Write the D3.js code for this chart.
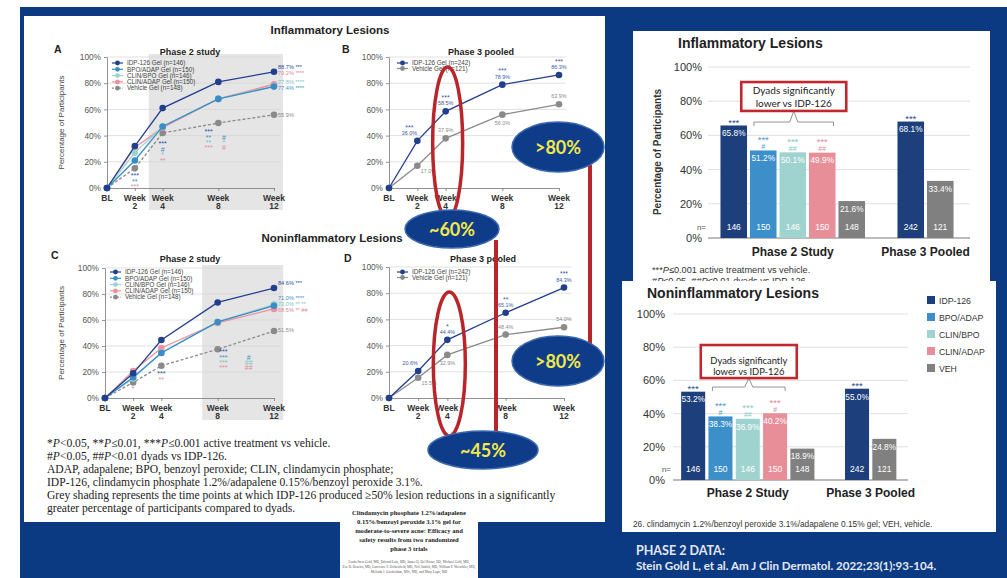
<!DOCTYPE html>
<html>
<head>
<meta charset="utf-8">
<script src="https://cdn.jsdelivr.net/npm/d3@7"></script>
<style>
  body { margin: 0; background: #fff; }
  svg { display: block; font-family: "Liberation Sans", Arial, sans-serif; }
</style>
</head>
<body>
<div id="slide"></div>
<script>
'use strict';

// ---- line charts (panels A-D) ----
const weekNums = [0, 2, 4, 8, 12];
const weekTop = ["BL", "Week", "Week", "Week", "Week"];
const weekBottom = ["", "2", "4", "8", "12"];
const pctTicks = [0, 20, 40, 60, 80, 100];

const p2Names = ["IDP-126 Gel (n=146)", "BPO/ADAP Gel (n=150)", "CLIN/BPO Gel (n=146)", "CLIN/ADAP Gel (n=150)", "Vehicle Gel (n=148)"];
const p3Names = ["IDP-126 Gel (n=242)", "Vehicle Gel (n=121)"];

const inflP2 = [
  [0, 32, 61, 81, 88.7],
  [0, 21, 47, 68, 77.4],
  [0, 27, 47, 68, 77.8],
  [0, 31, 46, 68, 79.2],
  [0, 15, 42, 49.6, 55.9]
];
const inflP2EndStars = ["***", "****", "****", "****", ""];
const inflP2EndAt = [92.4, 76.3, 80.9, 87.8, 55.9];
// [week, pct, series, text]
const inflP2Marks = [
  [2, 10, 0, "***"], [2, 5.5, 1, "**"], [2, 1.5, 3, "***"],
  [4, 34, 0, "***"], [4, 30, 1, "#"], [4, 26, 2, "*"], [4, 21.5, 3, "**"],
  [7.3, 43.5, 0, "***"], [7.3, 39, 1, "**"], [7.3, 35, 2, "**"], [7.3, 31, 3, "***"],
  [8.4, 39, 1, "#"], [8.4, 35, 2, "*"], [8.4, 31, 3, "#"]
];

const inflP3 = [
  [0, 36.0, 58.5, 78.9, 86.3],
  [0, 17.0, 37.9, 56.0, 63.9]
];
const inflP3Stars = [["", "***", "***", "***", "***"], ["", "", "", "", ""]];
const inflP3Place = [["", "l", "a", "a", "a"], ["", "r", "a", "b", "a"]];

const noninflP2 = [
  [0, 19, 44.6, 73.5, 84.6],
  [0, 16, 34.6, 58.5, 71.0],
  [0, 15, 35, 58.5, 72.0],
  [0, 20.8, 38.5, 57.7, 68.5],
  [0, 12, 24.8, 37.5, 51.5]
];
const noninflP2EndStars = ["***", "****", "** **", "** ##", ""];
const noninflP2EndAt = [88.5, 77, 72.3, 67.7, 52.3];
const noninflP2Marks = [
  [2, 7.5, 3, "*"],
  [4, 19, 0, "***"], [4, 14.6, 3, "**"],
  [8.4, 36, 0, "***"], [8.4, 31.5, 1, "***"], [8.4, 27.7, 2, "***"], [8.4, 23.8, 3, "***"],
  [10.2, 31.5, 1, "#"], [10.2, 27.7, 2, "##"], [10.2, 23.8, 3, "##"]
];

const noninflP3 = [
  [0, 20.6, 44.4, 65.1, 84.3],
  [0, 15.5, 32.9, 48.4, 54.0]
];
const noninflP3Stars = [["", "", "*", "**", "***"], ["", "", "", "", ""]];
const noninflP3Place = [["", "l", "a", "a", "a"], ["", "r", "b", "a", "a"]];

const p2Colors = ["#223f8e", "#3a8cc6", "#9cd4cf", "#ec919d", "#8a8a8a"];
const p2TextColors = ["#2c4c9a", "#3d90c8", "#7cc4bf", "#e4899a", "#8a8a8a"];
const p3Colors = ["#223f8e", "#8a8a8a"];
const p3TextColors = ["#3a5aa2", "#8a8a8a"];

// ---- bar charts (right side) ----
const barNames = ["IDP-126", "BPO/ADAP", "CLIN/BPO", "CLIN/ADAP", "VEH"];
const barColors = ["#1d3f7c", "#3c8fc8", "#9fd3d0", "#e88e99", "#808080"];
const barStarColors = ["#2a4a94", "#4a9ad0", "#86c8c3", "#e48b98", "#808080"];
const barGroups = ["Phase 2 Study", "Phase 3 Pooled"];
const barSlots = ["P2 IDP-126", "P2 BPO/ADAP", "P2 CLIN/BPO", "P2 CLIN/ADAP", "P2 VEH", "P3 IDP-126", "P3 VEH"];
const barSeries = [0, 1, 2, 3, 4, 0, 4];
const barN = [146, 150, 146, 150, 148, 242, 121];
const inflBars = [65.8, 51.2, 50.1, 49.9, 21.6, 68.1, 33.4];
const noninflBars = [53.2, 38.3, 36.9, 40.2, 18.9, 55.0, 24.8];
const barStars = ["***", "***", "***", "***", "", "***", ""];
const inflBarHash = ["", "#", "##", "##", "", "", ""];
const noninflBarHash = ["", "#", "##", "#", "", "", ""];

const W = 1007, H = 578;
const navy = "#0b3a82";
const fmt = d3.format(".1f");

const svg = d3.select("#slide").append("svg")
    .attr("width", W)
    .attr("height", H);

// slide backdrop
svg.append("rect").attr("width", W).attr("height", H).attr("fill", "#fff");
svg.append("rect").attr("x", 20).attr("y", 7).attr("width", W - 20).attr("height", H - 7).attr("fill", navy);
svg.append("rect").attr("x", 24).attr("y", 16).attr("width", 581).attr("height", 506).attr("fill", "#fff");

function txt(g, x, y, s, size, o) {
  o = o || {};
  return g.append("text")
    .attr("x", x).attr("y", y)
    .attr("font-size", size)
    .attr("font-weight", o.bold ? "bold" : null)
    .attr("font-style", o.italic ? "italic" : null)
    .attr("font-family", o.family || null)
    .attr("text-anchor", o.anchor || "start")
    .attr("fill", o.fill || "#333")
    .text(s);
}

// text with italic "P" pieces: parts = [[text, italic], ...]
function richTxt(g, x, y, parts, size, o) {
  o = o || {};
  const t = g.append("text").attr("x", x).attr("y", y)
    .attr("font-size", size)
    .attr("font-family", o.family || null)
    .attr("fill", o.fill || "#222");
  parts.forEach(p => t.append("tspan").attr("font-style", p[1] ? "italic" : null).text(p[0]));
  return t;
}

function linePanel(o) {
  const g = svg.append("g");
  const x = d3.scaleLinear().domain([0, 12]).range([o.x0, o.x1]);
  const y = d3.scaleLinear().domain([0, 100]).range([o.y0, o.y1]);

  if (o.shade) {
    g.append("rect")
      .attr("x", x(o.shade[0])).attr("y", y(100) - 3)
      .attr("width", x(o.shade[1]) - x(o.shade[0]))
      .attr("height", y(0) - y(100) + 25)
      .attr("fill", "#e5e5e5");
  }

  g.selectAll("line.grid").data(pctTicks.slice(1)).join("line")
      .attr("class", "grid")
      .attr("x1", x(0)).attr("x2", x(12.5))
      .attr("y1", d => y(d)).attr("y2", d => y(d))
      .attr("stroke", "#d4d4d4").attr("stroke-width", 0.7);

  const ya = g.append("g").attr("transform", `translate(${x(0)},0)`)
      .call(d3.axisLeft(y).tickValues(pctTicks).tickFormat(d => d + "%").tickSize(3).tickSizeOuter(0).tickPadding(3));
  const xa = g.append("g").attr("transform", `translate(0,${y(0)})`)
      .call(d3.axisBottom(x).tickValues(weekNums).tickSize(3).tickSizeOuter(0).tickFormat(""));
  [ya, xa].forEach(a => {
    a.select(".domain").attr("stroke", "#777").attr("stroke-width", 0.8);
    a.selectAll(".tick line").attr("stroke", "#777").attr("stroke-width", 0.8);
    a.selectAll("text").attr("font-size", 8.3).attr("fill", "#555").attr("font-family", "Liberation Sans");
  });

  g.selectAll("text.wk1").data(weekNums).join("text")
      .attr("class", "wk1")
      .attr("x", d => x(d)).attr("y", y(0) + 13)
      .attr("text-anchor", "middle").attr("font-size", 8.5).attr("font-weight", "bold").attr("fill", "#333")
      .text((d, i) => weekTop[i]);
  g.selectAll("text.wk2").data(weekNums).join("text")
      .attr("class", "wk2")
      .attr("x", d => x(d)).attr("y", y(0) + 21)
      .attr("text-anchor", "middle").attr("font-size", 8.5).attr("font-weight", "bold").attr("fill", "#333")
      .text((d, i) => weekBottom[i]);

  // panel letter, subtitle, y title
  txt(g, o.letter[1], o.letter[2], o.letter[0], 10.5, { bold: true, fill: "#222" });
  txt(g, o.sub[1], o.sub[2], o.sub[0], 9, { bold: true, anchor: "middle", fill: "#222" });
  if (o.ytitle) {
    g.append("text")
      .attr("transform", `translate(${o.ytitle},${y(50)}) rotate(-90)`)
      .attr("text-anchor", "middle").attr("font-size", 8).attr("fill", "#444")
      .text("Percentage of Participants");
  }

  const line = d3.line().x((d, i) => x(weekNums[i])).y(d => y(d));
  const last = o.data.length - 1;
  d3.range(o.data.length).reverse().forEach(s => {
    g.append("path")
      .attr("d", line(o.data[s]))
      .attr("fill", "none")
      .attr("stroke", o.colors[s])
      .attr("stroke-width", 1.3)
      .attr("stroke-dasharray", o.dashed && s === last ? "3,2" : null);
    g.selectAll(null).data(o.data[s]).join("circle")
      .attr("cx", (d, i) => x(weekNums[i]))
      .attr("cy", d => y(d))
      .attr("r", 3.3)
      .attr("fill", o.colors[s]);
  });

  // legend
  o.names.forEach((nm, i) => {
    const ly = o.legY + i * o.legStep;
    g.append("line")
      .attr("x1", o.legX).attr("x2", o.legX + 11).attr("y1", ly).attr("y2", ly)
      .attr("stroke", o.colors[i]).attr("stroke-width", 1.2)
      .attr("stroke-dasharray", o.dashed && i === last ? "2,1.5" : null);
    g.append("circle").attr("cx", o.legX + 5.5).attr("cy", ly).attr("r", 2.4).attr("fill", o.colors[i]);
    txt(g, o.legX + 15, ly + 2.2, nm, 6.3, { fill: "#444" });
  });

  // phase 2: labels at week 12 and significance marks
  if (o.endAt) {
    o.data.forEach((ser, s) => {
      txt(g, x(12) + 4, y(o.endAt[s]) + 2, fmt(ser[4]) + "% " + o.endStars[s], 5.6, { fill: o.textColors[s] });
    });
    o.marks.forEach(m => {
      txt(g, x(m[0]), y(m[1]) + 3, m[3], 7, { anchor: "middle", fill: o.textColors[m[2]] });
    });
  }

  // phase 3: value labels on every point
  if (o.place) {
    o.data.forEach((ser, s) => ser.forEach((v, i) => {
      const p = o.place[s][i];
      if (!p) return;
      const px = x(weekNums[i]), py = y(v);
      let tx = px, ty = py - 6;
      if (p === "b") ty = py + 10;
      if (p === "l") tx = px - 8;
      if (p === "r") { tx = px + 11; ty = py + 7; }
      txt(g, tx, ty, fmt(v) + "%", 5.4, { anchor: "middle", fill: o.textColors[s] });
      if (o.stars[s][i]) txt(g, tx, ty - 5.2, o.stars[s][i], 7, { anchor: "middle", fill: o.textColors[s] });
    }));
  }
  return x;
}

// left slide panel
txt(svg, 330, 34, "Inflammatory Lesions", 11.5, { bold: true, anchor: "middle", fill: "#222" });
txt(svg, 332, 242, "Noninflammatory Lesions", 11.5, { bold: true, anchor: "middle", fill: "#222" });

linePanel({
  x0: 107, x1: 274, y0: 188, y1: 57, shade: [3, 12.65],
  data: inflP2, colors: p2Colors, textColors: p2TextColors, names: p2Names, dashed: true,
  legX: 112, legY: 63, legStep: 6.3,
  letter: ["A", 54, 53], sub: ["Phase 2 study", 190, 55], ytitle: 64,
  endAt: inflP2EndAt, endStars: inflP2EndStars, marks: inflP2Marks
});
const xB = linePanel({
  x0: 389, x1: 559, y0: 188, y1: 57,
  data: inflP3, colors: p3Colors, textColors: p3TextColors, names: p3Names,
  legX: 397, legY: 63, legStep: 5.5,
  letter: ["B", 342, 53], sub: ["Phase 3 pooled", 481, 55],
  place: inflP3Place, stars: inflP3Stars
});
linePanel({
  x0: 105, x1: 274, y0: 398, y1: 268, shade: [6.9, 12.65],
  data: noninflP2, colors: p2Colors, textColors: p2TextColors, names: p2Names, dashed: true,
  legX: 110, legY: 272, legStep: 6.3,
  letter: ["C", 51, 259], sub: ["Phase 2 study", 190, 262], ytitle: 64,
  endAt: noninflP2EndAt, endStars: noninflP2EndStars, marks: noninflP2Marks
});
const xD = linePanel({
  x0: 389, x1: 564, y0: 398, y1: 267,
  data: noninflP3, colors: p3Colors, textColors: p3TextColors, names: p3Names,
  legX: 397, legY: 272, legStep: 5.5,
  letter: ["D", 344, 262], sub: ["Phase 3 pooled", 483, 262],
  place: noninflP3Place, stars: noninflP3Stars
});

// footnotes of the left panel
const footSerif = "Liberation Serif";
const fs = 11.6;
const foot = svg.append("g");
richTxt(foot, 47, 447, [["*", 0], ["P", 1], ["<0.05, **", 0], ["P", 1], ["≤0.01, ***", 0], ["P", 1], ["≤0.001 active treatment vs vehicle.", 0]], fs, { family: footSerif });
richTxt(foot, 47, 460, [["#", 0], ["P", 1], ["<0.05, ##", 0], ["P", 1], ["<0.01 dyads vs IDP-126.", 0]], fs, { family: footSerif });
richTxt(foot, 47, 473, [["ADAP, adapalene; BPO, benzoyl peroxide; CLIN, clindamycin phosphate;", 0]], fs, { family: footSerif });
richTxt(foot, 47, 486, [["IDP-126, clindamycin phosphate 1.2%/adapalene 0.15%/benzoyl peroxide 3.1%.", 0]], fs, { family: footSerif });
richTxt(foot, 47, 499, [["Grey shading represents the time points at which IDP-126 produced ≥50% lesion reductions in a significantly", 0]], fs, { family: footSerif });
richTxt(foot, 47, 512, [["greater percentage of participants compared to dyads.", 0]], fs, { family: footSerif });

// article snippet
const snip = svg.append("g");
snip.append("rect").attr("x", 340).attr("y", 504).attr("width", 138).attr("height", 74).attr("fill", "#fff");
["Clindamycin phosphate 1.2%/adapalene", "0.15%/benzoyl peroxide 3.1% gel for", "moderate-to-severe acne: Efficacy and",
 "safety results from two randomized", "phase 3 trials"].forEach((s, i) => {
  txt(snip, 409, 515 + i * 9, s, 6.6, { bold: true, anchor: "middle", family: footSerif, fill: "#222" });
});
["Linda Stein Gold, MD, Edward Lain, MD, James Q. Del Rosso, DO, Michael Gold, MD,",
 "Zoe D. Draelos, MD, Lawrence F. Eichenfield, MD, Neil Sadick, MD, William P. Werschler, MD,",
 "Melinda J. Gooderham, MSc, MD, and Mary Lupo, MD"].forEach((s, i) => {
  txt(snip, 409, 563 + i * 5, s, 3.4, { anchor: "middle", family: footSerif, fill: "#555" });
});

// callouts over the left panel
const call = svg.append("g");
call.append("line").attr("x1", 496).attr("x2", 496).attr("y1", 240).attr("y2", 434)
  .attr("stroke", "#b8262b").attr("stroke-width", 4);
call.append("line").attr("x1", 590).attr("x2", 590).attr("y1", 165).attr("y2", 345)
  .attr("stroke", "#b8262b").attr("stroke-width", 4);
call.append("ellipse").attr("cx", xB(4) + 2).attr("cy", 143).attr("rx", 15).attr("ry", 76)
  .attr("fill", "none").attr("stroke", "#b8262b").attr("stroke-width", 3.5);
call.append("ellipse").attr("cx", xD(4) + 2).attr("cy", 364).attr("rx", 16).attr("ry", 72)
  .attr("fill", "none").attr("stroke", "#b8262b").attr("stroke-width", 3.5);
[["~60%", 452, 229, 47, 19], [">80%", 558, 147, 46, 25], [">80%", 558, 361, 46, 25], ["~45%", 483, 450, 55, 19]].forEach(c => {
  call.append("ellipse").attr("cx", c[1]).attr("cy", c[2]).attr("rx", c[3]).attr("ry", c[4])
    .attr("fill", "#0e3c88").attr("stroke", "#3c68b0").attr("stroke-width", 1.5);
  txt(call, c[1], c[2] + 6.5, c[0], 18, { bold: true, anchor: "middle", family: "Lato", fill: "#f3e84a" });
});

// ---- bar chart panels ----
function barPanel(o) {
  const g = svg.append("g");
  const slots = barSlots.slice(0, 5).concat(["gap"], barSlots.slice(5));
  const x = d3.scaleBand().domain(slots).range([o.x0, o.x1]).paddingInner(o.pad).paddingOuter(o.pad / 2);
  const y = d3.scaleLinear().domain([0, 100]).range([o.y0, o.y1]);
  const bw = x.bandwidth();

  g.selectAll("line.grid").data(pctTicks.slice(1)).join("line")
      .attr("x1", o.gx0).attr("x2", o.gx1)
      .attr("y1", d => y(d)).attr("y2", d => y(d))
      .attr("stroke", "#dcdcdc").attr("stroke-width", 0.9);
  g.append("line").attr("x1", o.gx0).attr("x2", o.gx1).attr("y1", y(0)).attr("y2", y(0))
      .attr("stroke", "#777").attr("stroke-width", 1);
  g.selectAll("text.yl").data(pctTicks).join("text")
      .attr("x", o.labX).attr("y", d => y(d) + 4)
      .attr("text-anchor", "end").attr("font-size", 11).attr("fill", "#333")
      .text(d => d + "%");

  g.selectAll("rect.bar").data(o.values).join("rect")
      .attr("x", (d, i) => x(barSlots[i]))
      .attr("y", d => y(d))
      .attr("width", bw)
      .attr("height", d => y(0) - y(d))
      .attr("fill", (d, i) => barColors[barSeries[i]]);

  o.values.forEach((v, i) => {
    const cx = x(barSlots[i]) + bw / 2;
    const col = barStarColors[barSeries[i]];
    txt(g, cx, y(v) + 10.8, fmt(v) + "%", 8.3, { anchor: "middle", fill: "#fff" });
    txt(g, cx, y(0) - 8, barN[i], 8.5, { anchor: "middle", fill: "#fff" });
    if (o.hash[i]) {
      txt(g, cx, y(v) - 7.5, barStars[i], 9.5, { anchor: "middle", fill: col });
      txt(g, cx, y(v) - 1.5, o.hash[i], 7, { anchor: "middle", fill: col });
    } else if (barStars[i]) {
      txt(g, cx, y(v) + 0.5, barStars[i], 9.5, { anchor: "middle", fill: col });
    }
  });
  txt(g, o.nX, y(0) - 8, "n=", 8, { anchor: "end", fill: "#555" });

  // category labels
  const c2 = (x(barSlots[0]) + x(barSlots[4]) + bw) / 2;
  const c3 = (x(barSlots[5]) + x(barSlots[6]) + bw) / 2;
  txt(g, c2, o.catY, barGroups[0], 12, { bold: true, anchor: "middle", fill: "#222" });
  txt(g, c3, o.catY, barGroups[1], 12, { bold: true, anchor: "middle", fill: "#222" });

  // brace over dyads + red box
  const b1 = x(barSlots[1]) + 4, b2 = x(barSlots[3]) + bw - 2, bm = (b1 + b2) / 2, by = y(o.brace);
  const boxTop = y(o.box[0]), boxBot = y(o.box[1]);
  g.append("path")
    .attr("d", `M${b1},${by + 4}V${by}H${bm - 4}L${bm},${boxBot}L${bm + 4},${by}H${b2}V${by + 4}`)
    .attr("fill", "none").attr("stroke", "#777").attr("stroke-width", 0.8);
  g.append("rect")
    .attr("x", bm - o.boxW / 2).attr("y", boxTop)
    .attr("width", o.boxW).attr("height", boxBot - boxTop)
    .attr("fill", "#fff").attr("stroke", "#c0282e").attr("stroke-width", 2.6);
  txt(g, bm, boxTop + o.boxText[0], "Dyads significantly", o.boxFont, { anchor: "middle", family: "Lato", fill: "#222" });
  txt(g, bm, boxTop + o.boxText[1], "lower vs IDP-126", o.boxFont, { anchor: "middle", family: "Lato", fill: "#222" });
  return g;
}

// right top: inflammatory
svg.append("rect").attr("x", 633).attr("y", 31).attr("width", 357).attr("height", 256).attr("fill", "#fff");
txt(svg, 678, 48, "Inflammatory Lesions", 14, { bold: true, fill: "#222" });
svg.append("text")
  .attr("transform", "translate(661,152) rotate(-90)")
  .attr("text-anchor", "middle").attr("font-size", 10).attr("font-weight", "bold").attr("fill", "#333")
  .text("Percentage of Participants");
barPanel({
  x0: 719, x1: 955, pad: 0.1, y0: 238, y1: 67, gx0: 708, gx1: 970, labX: 702, nX: 706,
  values: inflBars, hash: inflBarHash, catY: 256,
  brace: 67.8, box: [91.2, 74.3], boxW: 105, boxText: [12, 24.5], boxFont: 10
});
const rf = svg.append("g");
richTxt(rf, 652, 273, [["***", 0], ["P", 1], ["≤0.001 active treatment vs vehicle.", 0]], 9.2, { fill: "#333" });
richTxt(rf, 652, 284, [["#", 0], ["P", 1], ["≤0.05, ##", 0], ["P", 1], ["≤0.01 dyads vs IDP-126.", 0]], 9.2, { fill: "#333" });

// right bottom: noninflammatory
svg.append("rect").attr("x", 622).attr("y", 281).attr("width", 374).attr("height", 251).attr("fill", "#fff");
txt(svg, 647, 298, "Noninflammatory Lesions", 14, { bold: true, fill: "#222" });
barPanel({
  x0: 679.5, x1: 898, pad: 0.12, y0: 480, y1: 314, gx0: 673, gx1: 908, labX: 665, nX: 671,
  values: noninflBars, hash: noninflBarHash, catY: 497,
  brace: 56, box: [81.3, 61.4], boxW: 96, boxText: [18.5, 29.5], boxFont: 9.4
});
const leg = svg.append("g");
barNames.forEach((nm, i) => {
  leg.append("rect").attr("x", 927).attr("y", 296 + i * 17).attr("width", 8).attr("height", 8).attr("fill", barColors[i]);
  txt(leg, 939, 303.5 + i * 17, nm, 8.7, { fill: "#333" });
});
txt(svg, 633, 527, "26. clindamycin 1.2%/benzoyl peroxide 3.1%/adapalene 0.15% gel; VEH, vehicle.", 8.3, { fill: "#333" });

// source note on the navy background
txt(svg, 636, 555, "PHASE 2 DATA:", 12.5, { bold: true, family: "Lato", fill: "#e4e9f2" });
txt(svg, 636, 570, "Stein Gold L, et al. Am J Clin Dermatol. 2022;23(1):93-104.", 11.6, { bold: true, family: "Lato", fill: "#e4e9f2" });
</script>
</body>
</html>
